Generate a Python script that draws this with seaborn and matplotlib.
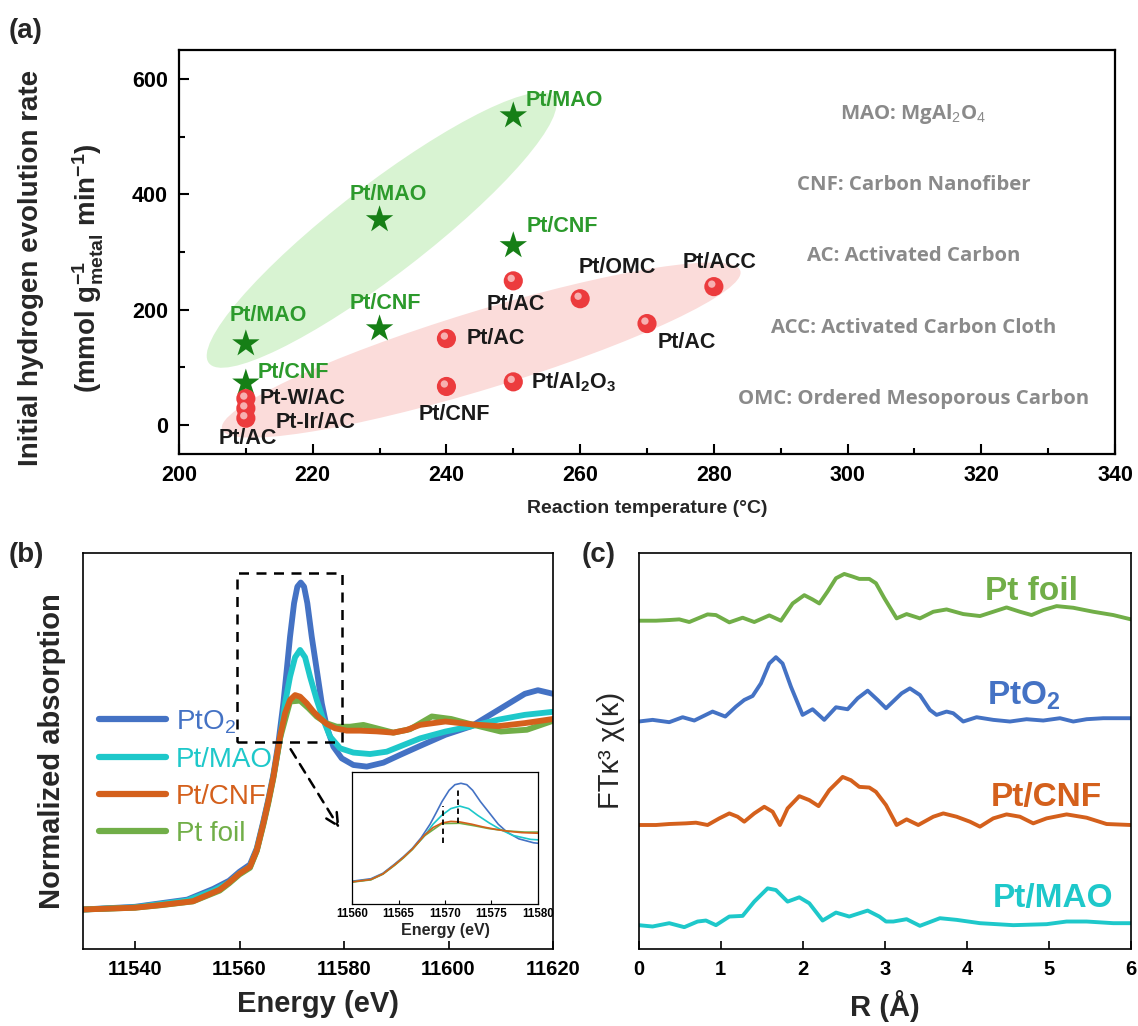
import matplotlib
matplotlib.use("Agg")
import matplotlib.pyplot as plt
import matplotlib.transforms as mtransforms
from matplotlib.patches import Ellipse, Rectangle
from matplotlib.ticker import MultipleLocator
import seaborn as sns

# ---------------- panel (a): hydrogen evolution rate vs temperature ----------------
star_temp = [210, 210, 230, 230, 250, 250]
star_rate = [141, 73, 356, 167, 536, 311]
star_names = ["Pt/MAO", "Pt/CNF", "Pt/MAO", "Pt/CNF", "Pt/MAO", "Pt/CNF"]

ball_temp = [210, 210, 210, 240, 240, 250, 250, 260, 270, 280]
ball_rate = [46, 29, 12, 150, 67, 250, 75, 219, 176, 240]
ball_names = ["Pt-W/AC", "Pt-Ir/AC", "Pt/AC", "Pt/AC", "Pt/CNF", "Pt/AC",
              r"Pt/Al$\mathbf{_2}$O$\mathbf{_3}$", "Pt/OMC", "Pt/AC", "Pt/ACC"]

abbrevs = [r"MAO: MgAl$_2$O$_4$", "CNF: Carbon Nanofiber", "AC: Activated Carbon",
           "ACC: Activated Carbon Cloth", "OMC: Ordered Mesoporous Carbon"]

# ---------------- panel (b): XANES, normalized ----------------
e_pto2 = [11530, 11540, 11550, 11555, 11558, 11560, 11562, 11563.3, 11564.56, 11565.5,
          11566.48, 11567.43, 11568.39, 11569.04, 11569.67, 11570.44, 11571.07, 11571.72,
          11572.35, 11572.98, 11573.82, 11574.78, 11575.74, 11576.69, 11577.96, 11579.56,
          11581.79, 11584.35, 11587.53, 11590.72, 11594.55, 11599.4, 11604.4, 11609.5,
          11614.6, 11617.1, 11620]
mu_pto2 = [0.0, 0.015, 0.055, 0.115, 0.16, 0.21, 0.25, 0.34, 0.49, 0.61,
           0.75, 0.925, 1.147, 1.333, 1.518, 1.704, 1.796, 1.819,
           1.796, 1.704, 1.518, 1.333, 1.147, 1.017, 0.906, 0.841,
           0.804, 0.795, 0.817, 0.86, 0.91, 0.972, 1.02, 1.11,
           1.20, 1.22, 1.20]

e_mao = [11530, 11540, 11550, 11555, 11558, 11560, 11562, 11563.3, 11564.56, 11565.5,
         11566.48, 11567.76, 11568.71, 11569.67, 11570.63, 11571.59, 11572.55, 11573.5,
         11574.78, 11576.05, 11577.33, 11579.24, 11581.79, 11584.98, 11588.17, 11591.36,
         11594.55, 11599.4, 11604.4, 11609.5, 11614.6, 11620]
mu_mao = [0.0, 0.012, 0.05, 0.105, 0.15, 0.2, 0.238, 0.33, 0.48, 0.60,
          0.74, 0.95, 1.147, 1.295, 1.403, 1.444, 1.403, 1.295,
          1.166, 1.054, 0.962, 0.897, 0.873, 0.865, 0.878, 0.915,
          0.952, 0.99, 1.02, 1.056, 1.083, 1.10]

e_cnf = [11530, 11540, 11545, 11551.1, 11556.2, 11558, 11560, 11562, 11563.3, 11564.56,
         11565.5, 11566.48, 11567.76, 11568.71, 11569.67, 11570.63, 11571.59, 11572.87,
         11574.14, 11575.41, 11576.69, 11578.28, 11580.52, 11583.07, 11586.26, 11589.44,
         11592.0, 11594.55, 11599.4, 11604.4, 11609.5, 11614.6, 11620]
mu_cnf = [0.0, 0.01, 0.025, 0.046, 0.11, 0.15, 0.2, 0.238, 0.33, 0.479,
          0.60, 0.739, 0.962, 1.092, 1.166, 1.193, 1.184, 1.147,
          1.101, 1.064, 1.032, 1.008, 0.995, 0.995, 0.991, 0.984,
          0.999, 1.027, 1.046, 1.03, 1.02, 1.037, 1.06]

e_foil = [11530, 11540, 11545, 11551.1, 11556.2, 11558, 11560, 11562, 11563.3, 11564.56,
          11565.5, 11566.48, 11567.76, 11569.67, 11571.59, 11573.19, 11574.78, 11576.69,
          11578.6, 11581.15, 11583.7, 11586.26, 11589.44, 11592.63, 11594.55, 11596.8,
          11600.5, 11604.4, 11610, 11615, 11620]
mu_foil = [0.0, 0.01, 0.024, 0.045, 0.105, 0.145, 0.195, 0.232, 0.325, 0.47,
           0.59, 0.73, 0.953, 1.157, 1.162, 1.12, 1.073, 1.036,
           1.017, 1.017, 1.027, 1.008, 0.984, 1.003, 1.036, 1.074,
           1.06, 1.03, 0.99, 1.0, 1.05]

xanes_names = [r"PtO$_2$", "Pt/MAO", "Pt/CNF", "Pt foil"]
xanes_colors = ["#4472C4", "#1EC8CA", "#D4601C", "#71AE48"]

# ---------------- panel (c): FT-EXAFS, stacked as drawn ----------------
r_foil = [0.0, 0.211, 0.373, 0.495, 0.617, 0.84, 0.942, 1.105, 1.267, 1.409, 1.592, 1.734,
          1.877, 2.019, 2.12, 2.202, 2.303, 2.405, 2.506, 2.608, 2.689, 2.811, 2.892, 2.994,
          3.144, 3.266, 3.428, 3.591, 3.753, 3.956, 4.16, 4.322, 4.484, 4.647, 4.789, 4.931,
          5.094, 5.297, 5.541, 5.785, 6.0]
ft_foil = [9.90, 9.90, 9.92, 9.94, 9.86, 10.09, 10.07, 9.85, 9.99, 9.86, 10.06, 9.90,
           10.42, 10.67, 10.54, 10.42, 10.78, 11.18, 11.31, 11.23, 11.16, 11.16, 11.03, 10.58,
           9.97, 10.10, 9.97, 10.17, 10.24, 10.10, 10.04, 10.17, 10.30, 10.17, 10.07, 10.22,
           10.34, 10.29, 10.17, 10.07, 9.94]

r_pto2 = [0.0, 0.170, 0.373, 0.536, 0.678, 0.901, 1.056, 1.186, 1.287, 1.389, 1.49, 1.592,
          1.673, 1.754, 1.856, 1.998, 2.12, 2.262, 2.405, 2.547, 2.669, 2.791, 2.913, 3.015,
          3.205, 3.306, 3.428, 3.55, 3.631, 3.753, 3.834, 3.956, 4.119, 4.322, 4.525, 4.728,
          4.931, 5.135, 5.297, 5.46, 5.663, 5.866, 6.0]
ft_pto2 = [6.86, 6.91, 6.84, 6.99, 6.89, 7.16, 7.01, 7.31, 7.51, 7.63, 8.01, 8.61,
           8.80, 8.61, 7.91, 7.06, 7.23, 6.91, 7.29, 7.23, 7.56, 7.79, 7.51, 7.26,
           7.71, 7.86, 7.66, 7.21, 7.06, 7.16, 7.11, 6.86, 6.99, 6.91, 6.86, 6.93,
           6.89, 6.96, 6.86, 6.93, 6.96, 6.96, 6.96]

r_cnf = [0.0, 0.211, 0.373, 0.576, 0.698, 0.84, 0.983, 1.105, 1.206, 1.287, 1.409, 1.531,
         1.633, 1.722, 1.815, 1.958, 2.08, 2.193, 2.323, 2.486, 2.587, 2.689, 2.811, 2.892,
         3.015, 3.144, 3.266, 3.408, 3.591, 3.713, 3.875, 4.038, 4.16, 4.322, 4.484, 4.647,
         4.809, 4.972, 5.216, 5.46, 5.703, 6.0]
ft_cnf = [3.74, 3.74, 3.77, 3.79, 3.81, 3.74, 3.94, 4.09, 3.99, 3.84, 4.09, 4.29,
          4.14, 3.74, 4.24, 4.61, 4.49, 4.31, 4.79, 5.19, 5.09, 4.89, 4.87, 4.74,
          4.34, 3.74, 3.91, 3.74, 3.99, 4.09, 3.99, 3.84, 3.69, 3.94, 4.06, 3.99,
          3.79, 3.94, 4.06, 3.96, 3.77, 3.74]

r_mao = [0.0, 0.170, 0.373, 0.556, 0.718, 0.82, 0.942, 1.105, 1.267, 1.409, 1.572, 1.673,
         1.815, 1.958, 2.08, 2.242, 2.405, 2.567, 2.791, 2.933, 3.015, 3.104, 3.266, 3.428,
         3.672, 3.875, 4.16, 4.566, 4.972, 5.216, 5.46, 5.785, 6.0]
ft_mao = [0.72, 0.68, 0.78, 0.66, 0.83, 0.86, 0.72, 0.98, 1.00, 1.43, 1.83, 1.78,
          1.43, 1.56, 1.38, 0.86, 1.10, 0.98, 1.16, 0.98, 0.83, 0.83, 0.90, 0.70,
          0.93, 0.88, 0.78, 0.72, 0.75, 0.83, 0.83, 0.78, 0.78]

exafs_names = ["Pt foil", r"PtO$\mathbf{_2}$", "Pt/CNF", "Pt/MAO"]
exafs_colors = ["#71AE48", "#4472C4", "#D4601C", "#1EC8CA"]


def main():
    sns.set_theme(style="ticks")
    plt.rcParams["font.family"] = ["Liberation Sans", "DejaVu Sans"]
    plt.rcParams["mathtext.fontset"] = "custom"
    plt.rcParams["mathtext.rm"] = "Liberation Sans"
    plt.rcParams["mathtext.it"] = "Liberation Sans:italic"
    plt.rcParams["mathtext.bf"] = "Liberation Sans:bold"
    plt.rcParams["axes.edgecolor"] = "black"
    plt.rcParams["xtick.color"] = "black"
    plt.rcParams["ytick.color"] = "black"

    fig = plt.figure(figsize=(11.38, 10.26), dpi=100)
    ax_a = fig.add_axes([0.1573, 0.5575, 0.8225, 0.3938])
    ax_b = fig.add_axes([0.0727, 0.0750, 0.4133, 0.3863])
    ax_c = fig.add_axes([0.5612, 0.0750, 0.4326, 0.3863])
    ax_in = fig.add_axes([0.3096, 0.1186, 0.1629, 0.1287])

    # --- (a) ---
    ax_a.set_xlim(200, 340)
    ax_a.set_ylim(-50, 650)

    # shaded groups, sized in inches so the tilt is true on screen
    for cx, cy, w, h, ang, col in [(230.3, 338, 4.36, 0.90, 37.6, "#d8f3d2"),
                                   (245.2, 130, 5.42, 0.78, 17.0, "#fbdcda")]:
        tr = fig.dpi_scale_trans + mtransforms.ScaledTranslation(cx, cy, ax_a.transData)
        ax_a.add_patch(Ellipse((0, 0), w, h, angle=ang, transform=tr,
                               facecolor=col, edgecolor="none", zorder=0))

    sns.scatterplot(x=star_temp, y=star_rate, marker="*", s=430, color="#167f16",
                    edgecolor="none", ax=ax_a, zorder=3)
    sns.scatterplot(x=ball_temp, y=ball_rate, marker="o", s=190, color="#ec3b3d",
                    edgecolor="none", ax=ax_a, zorder=3)
    hl = mtransforms.offset_copy(ax_a.transData, fig=fig, x=-1.5, y=1.8, units="points")
    ax_a.scatter(ball_temp, ball_rate, s=28, color="#f7b0b0", edgecolor="none",
                 transform=hl, zorder=4)

    star_pos = [(207.5, 190), (211.8, 92), (225.5, 400), (225.5, 210), (251.8, 562), (252, 345)]
    for (tx, ty), name in zip(star_pos, star_names):
        ax_a.text(tx, ty, name, color="#2c9a2c", fontsize=15.5, fontweight="bold",
                  va="center", ha="left", zorder=5)
    ball_pos = [(212, 46), (214.4, 4), (206, -23), (243, 150), (235.8, 19), (246, 209),
                (252.6, 75), (259.8, 273), (271.6, 144), (275.3, 282)]
    for (tx, ty), name in zip(ball_pos, ball_names):
        ax_a.text(tx, ty, name, color="#1a1a1a", fontsize=15.5, fontweight="bold",
                  va="center", ha="left", zorder=5)

    for i, txt in enumerate(abbrevs):
        ax_a.text(0.7846, 0.842 - i * 0.1765, txt, transform=ax_a.transAxes,
                  family=["Open Sans", "DejaVu Sans"], fontweight="bold",
                  fontsize=14.7, color="#8a8a8a", ha="center", va="center")

    ax_a.set_xticks(range(200, 341, 20))
    ax_a.set_yticks(range(0, 601, 200))
    ax_a.xaxis.set_minor_locator(MultipleLocator(10))
    ax_a.yaxis.set_minor_locator(MultipleLocator(100))
    ax_a.tick_params(which="both", direction="in", top=False, right=False, width=1.5)
    ax_a.tick_params(which="major", length=7, labelsize=15.5, pad=8)
    ax_a.tick_params(which="minor", length=4)
    for lab in ax_a.get_xticklabels() + ax_a.get_yticklabels():
        lab.set_fontweight("bold")
    for sp in ax_a.spines.values():
        sp.set_linewidth(1.6)
    ax_a.set_xlabel("Reaction temperature (°C)", fontsize=14, fontweight="bold", labelpad=10)
    ax_a.set_ylabel("")
    fig.text(0.027, 0.739, "Initial hydrogen evolution rate", rotation=90, fontsize=20,
             fontweight="bold", ha="center", va="center")
    fig.text(0.078, 0.739, r"(mmol g$_{\mathbf{metal}}^{\mathbf{-1}}$ min$^{\mathbf{-1}}$)",
             rotation=90, fontsize=20, fontweight="bold", ha="center", va="center")
    fig.text(0.008, 0.970, "(a)", fontsize=20, fontweight="bold", va="center")

    # --- (b) ---
    xanes = [(e_pto2, mu_pto2), (e_mao, mu_mao), (e_cnf, mu_cnf), (e_foil, mu_foil)]
    z_b = [2.2, 2.3, 2.5, 2.4]
    for i in [3, 2, 1, 0]:
        ex, mu = xanes[i]
        sns.lineplot(x=ex, y=mu, color=xanes_colors[i], lw=4.2, ax=ax_b, label=xanes_names[i],
                     estimator=None, sort=False, zorder=z_b[i])
        sns.lineplot(x=ex, y=mu, color=xanes_colors[i], lw=1.2, ax=ax_in,
                     estimator=None, sort=False, legend=False, zorder=z_b[i])
    handles, labels = ax_b.get_legend_handles_labels()
    order = [labels.index(n) for n in xanes_names]
    leg = ax_b.legend([handles[k] for k in order], [labels[k] for k in order],
                      loc="upper left", bbox_to_anchor=(0.0, 0.65), frameon=False,
                      fontsize=20, handlelength=2.4, handletextpad=0.35,
                      labelspacing=0.4, borderaxespad=0.2, labelcolor="linecolor")
    for ln in leg.get_lines():
        ln.set_linewidth(4.5)

    ax_b.set_xlim(11530, 11620)
    ax_b.set_ylim(-0.22, 1.985)
    ax_b.set_xticks(range(11540, 11621, 20))
    ax_b.set_yticks([])
    ax_b.tick_params(axis="x", direction="in", length=6, width=1.2, labelsize=14.5, pad=8)
    for lab in ax_b.get_xticklabels():
        lab.set_fontweight("bold")
    for sp in ax_b.spines.values():
        sp.set_linewidth(1.2)
    ax_b.set_xlabel("Energy (eV)", fontsize=21, fontweight="bold", labelpad=8)
    ax_b.set_ylabel("Normalized absorption", fontsize=21, fontweight="bold", labelpad=12)
    ax_b.add_patch(Rectangle((11559.5, 0.93), 20.1, 0.94, fill=False, edgecolor="black",
                             lw=1.8, ls=(0, (4, 3)), zorder=6))
    ax_b.annotate("", xy=(11579.4, 0.44), xytext=(11569.5, 0.905),
                  arrowprops=dict(arrowstyle="->", ls=(0, (4, 3)), lw=1.8, color="black",
                                  mutation_scale=22), zorder=6)
    fig.text(0.008, 0.459, "(b)", fontsize=20, fontweight="bold", va="center")

    # inset: zoom on the white line
    ax_in.set_xlim(11560, 11580)
    ax_in.set_ylim(-0.17, 2.0)
    ax_in.set_xticks(range(11560, 11581, 5))
    ax_in.set_yticks([])
    ax_in.tick_params(axis="x", direction="in", length=3, width=0.8, labelsize=8.3, pad=3)
    for lab in ax_in.get_xticklabels():
        lab.set_fontweight("bold")
    for sp in ax_in.spines.values():
        sp.set_linewidth(0.9)
    ax_in.set_xlabel("Energy (eV)", fontsize=11.5, fontweight="bold", labelpad=2)
    ax_in.vlines([11569.8, 11571.4], [0.83, 1.16], [1.44, 1.71], colors="black",
                 linestyles=(0, (3, 2)), lw=1.3, zorder=5)

    # --- (c) ---
    exafs = [(r_foil, ft_foil), (r_pto2, ft_pto2), (r_cnf, ft_cnf), (r_mao, ft_mao)]
    for (rr, ft), col in zip(exafs, exafs_colors):
        sns.lineplot(x=rr, y=ft, color=col, lw=2.8, ax=ax_c, estimator=None, sort=False)
    label_pos = [(4.79, 10.78), (4.69, 7.63), (4.97, 4.58), (5.05, 1.53)]
    for (tx, ty), name, col in zip(label_pos, exafs_names, exafs_colors):
        ax_c.text(tx, ty, name, color=col, fontsize=24, fontweight="bold",
                  ha="center", va="center")
    ax_c.set_xlim(0, 6)
    ax_c.set_ylim(0, 11.95)
    ax_c.set_xticks(range(0, 7))
    ax_c.set_yticks([])
    ax_c.tick_params(axis="x", direction="in", length=6, width=1.2, labelsize=14.5, pad=8)
    for lab in ax_c.get_xticklabels():
        lab.set_fontweight("bold")
    for sp in ax_c.spines.values():
        sp.set_linewidth(1.2)
    ax_c.set_xlabel("R (Å)", fontsize=21, fontweight="bold", labelpad=8)
    ax_c.set_ylabel("FTκ³ χ(κ)", fontsize=21, labelpad=10)
    fig.text(0.511, 0.459, "(c)", fontsize=20, fontweight="bold", va="center")

    fig.savefig("out.png", dpi=100)
    plt.close(fig)


if __name__ == "__main__":
    main()
